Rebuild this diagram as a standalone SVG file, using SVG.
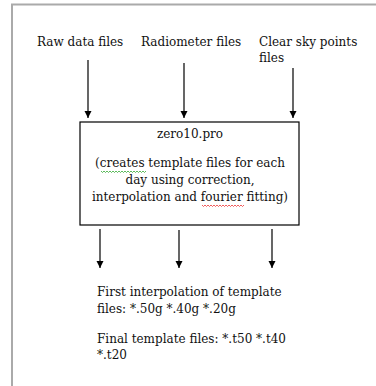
<svg xmlns="http://www.w3.org/2000/svg" width="376" height="386" viewBox="0 0 376 386">
<style>
text{font-family:"DejaVu Serif","Liberation Serif",serif;font-size:12px;fill:#111}
.c{text-anchor:middle}
.ln{stroke:#000;stroke-width:1.2;fill:none}
.sq{stroke-width:0.8;fill:none}
</style>
<defs>
<marker id="a" markerWidth="8" markerHeight="8" refX="7" refY="4" orient="auto" markerUnits="userSpaceOnUse">
<path d="M0,0.5 L7,4 L0,7.5 Z" fill="#000"/>
</marker>
</defs>
<rect width="376" height="386" fill="#fff"/>
<path d="M12,386 V4.5 H376" stroke="#aaa" stroke-width="2" fill="none"/>
<g id="raw"><text x="37" y="46">Raw data files</text></g>
<g id="radiometer"><text x="141" y="46">Radiometer files</text></g>
<g id="clearsky"><text x="259" y="46">Clear sky points</text><text x="259" y="62">files</text></g>
<g id="zero10">
<rect x="80" y="122" width="219" height="103" fill="#fff" stroke="#000" stroke-width="1.2"/>
<text class="c" x="190" y="138">zero10.pro</text>
<text class="c" x="190" y="167">(creates template files for each</text>
<text class="c" x="190" y="184">day using correction,</text>
<text class="c" x="190" y="201">interpolation and fourier fitting)</text>
<path class="sq" stroke="#3a3" d="M101,171 l1.5,1.5 l1.5,-1.5 l1.5,1.5 l1.5,-1.5 l1.5,1.5 l1.5,-1.5 l1.5,1.5 l1.5,-1.5 l1.5,1.5 l1.5,-1.5 l1.5,1.5 l1.5,-1.5 l1.5,1.5 l1.5,-1.5 l1.5,1.5 l1.5,-1.5 l1.5,1.5 l1.5,-1.5 l1.5,1.5 l1.5,-1.5 l1.5,1.5 l1.5,-1.5 l1.5,1.5 l1.5,-1.5 l1.5,1.5 l1.5,-1.5 l1.5,1.5 l1.5,-1.5 l1.5,1.5 l1.5,-1.5"/>
<path class="sq" stroke="#e33" d="M202,205 l1.5,1.5 l1.5,-1.5 l1.5,1.5 l1.5,-1.5 l1.5,1.5 l1.5,-1.5 l1.5,1.5 l1.5,-1.5 l1.5,1.5 l1.5,-1.5 l1.5,1.5 l1.5,-1.5 l1.5,1.5 l1.5,-1.5 l1.5,1.5 l1.5,-1.5 l1.5,1.5 l1.5,-1.5 l1.5,1.5 l1.5,-1.5 l1.5,1.5 l1.5,-1.5 l1.5,1.5 l1.5,-1.5 l1.5,1.5 l1.5,-1.5 l1.5,1.5 l1.5,-1.5"/>
</g>
<g id="outputs">
<text x="97" y="296">First interpolation of template</text>
<text x="97" y="313">files: *.50g *.40g *.20g</text>
<text x="97" y="343">Final template files: *.t50 *.t40</text>
<text x="97" y="359">*.t20</text>
</g>
<g id="connectors">
<line class="ln" x1="88" y1="60" x2="88" y2="118" marker-end="url(#a)"/>
<line class="ln" x1="184" y1="63" x2="184" y2="118" marker-end="url(#a)"/>
<line class="ln" x1="293" y1="68" x2="293" y2="118" marker-end="url(#a)"/>
<line class="ln" x1="100" y1="229" x2="100" y2="268" marker-end="url(#a)"/>
<line class="ln" x1="179" y1="230" x2="179" y2="268" marker-end="url(#a)"/>
<line class="ln" x1="272" y1="229" x2="272" y2="268" marker-end="url(#a)"/>
</g>
</svg>
